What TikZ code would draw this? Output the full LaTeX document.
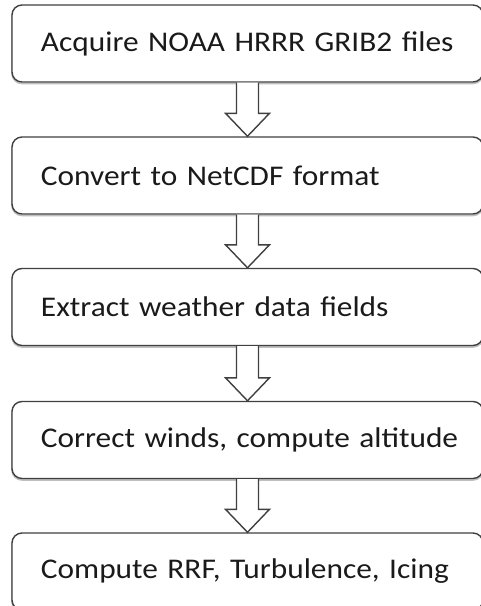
\documentclass[tikz,border=0pt]{standalone}
\usepackage{fontspec}
\setmainfont[FakeStretch=1.1]{Carlito}
\usetikzlibrary{calc}
\definecolor{edgegray}{HTML}{404040}
\definecolor{inkgray}{HTML}{1A1A1A}
\tikzset{
  x=1pt, y=-1pt,
  stepbox/.style={draw=edgegray, line width=1.4pt, fill=white, rounded corners=10pt,
    minimum width=471pt, minimum height=77pt, inner sep=0pt,
    text width=413pt, align=left, text=inkgray,
    font=\fontsize{28.5}{32}\selectfont},
  boxshadow/.style={draw=black!25, line width=1.6pt, rounded corners=10pt},
  flowarrow/.style={draw=edgegray, line width=1.4pt, fill=white, line join=miter}
}
% hollow block arrow from the bottom of one step to the top of the next
\newcommand{\blockarrow}[2]{%
  \path[flowarrow]
    ($(#1.south)+(-11,0)$) -- ($(#2.north)+(-11,-23)$) -- ($(#2.north)+(-22,-23)$)
    -- (#2.north) -- ($(#2.north)+(22,-23)$) -- ($(#2.north)+(11,-23)$)
    -- ($(#1.south)+(11,0)$);}
% step box with a soft shadow line beneath it
\newcommand{\stepnode}[3]{%
  \draw[boxshadow] (12,#2-38.5+1.5) rectangle (483,#2+38.5+1.5);
  \node[stepbox] (#1) at (247.5,#2) {\mbox{#3}};}
\begin{document}
\begin{tikzpicture}
\useasboundingbox (0,0) rectangle (481,606);
\begin{scope}
\clip (0,0) rectangle (481,606);
\stepnode{s1}{43.5}{Acquire NOAA HRRR GRIB2 files}
\stepnode{s2}{175.5}{Convert to NetCDF format}
\stepnode{s3}{307}{Extract weather data fields}
\stepnode{s4}{440}{Correct winds, compute altitude}
\stepnode{s5}{571.5}{Compute RRF, Turbulence, Icing}
\blockarrow{s1}{s2}
\blockarrow{s2}{s3}
\blockarrow{s3}{s4}
\blockarrow{s4}{s5}
\end{scope}
\end{tikzpicture}
\end{document}
